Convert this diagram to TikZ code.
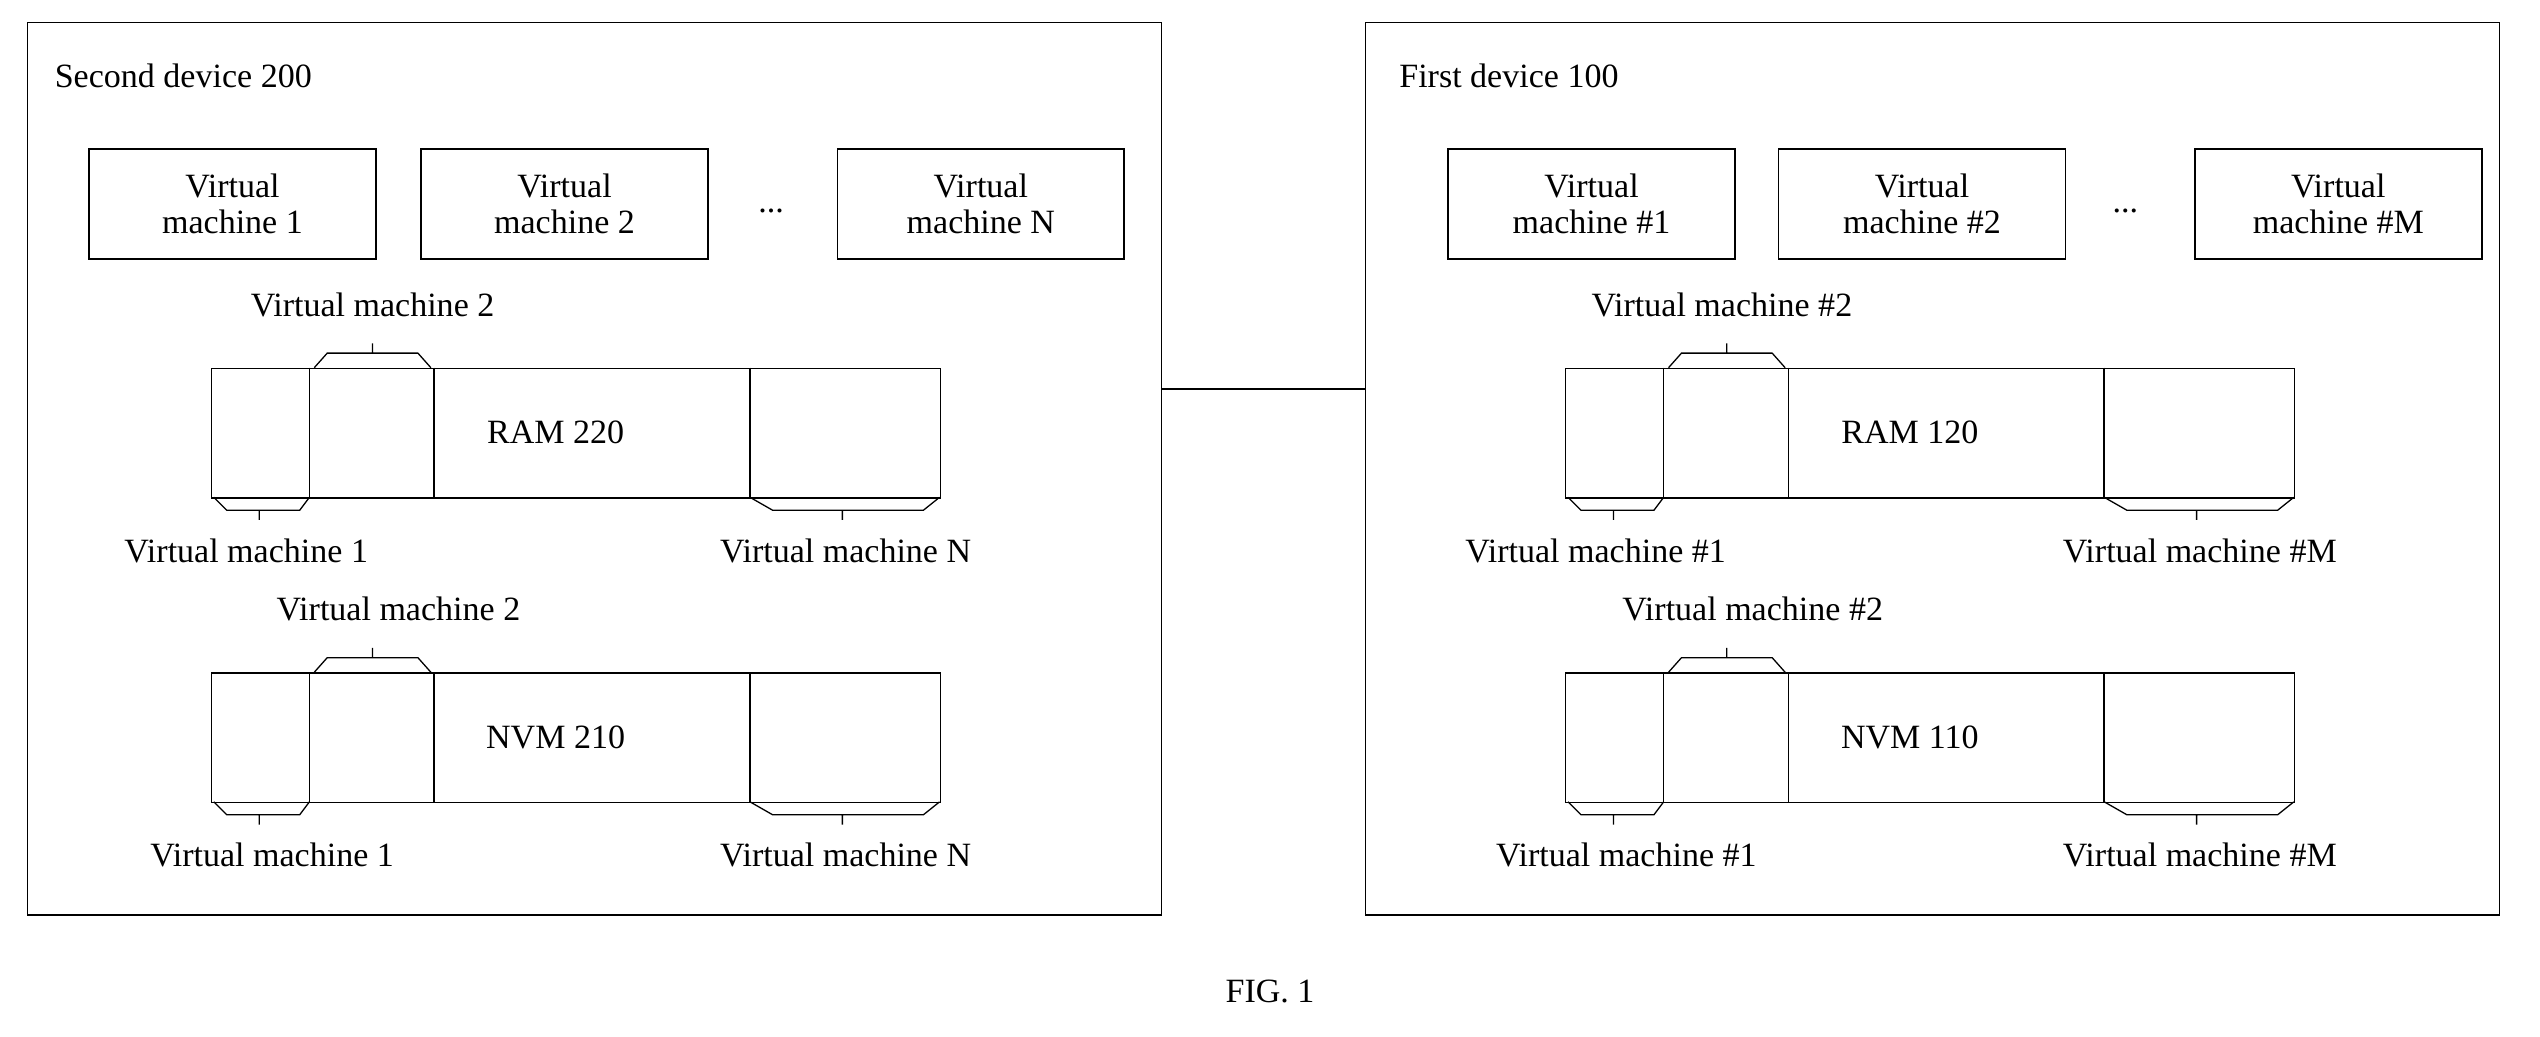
\documentclass[tikz,border=0pt]{standalone}
\usepackage{fontspec}
\setmainfont{Liberation Serif}
\usetikzlibrary{positioning}

\begin{document}
\begin{tikzpicture}[x=1pt,y=-1pt,line width=1pt,font=\fontsize{21}{24}\selectfont]
    \tikzset{device/.style = {draw, minimum width=700pt, minimum height=551pt, inner sep=0pt}}
    \tikzset{vm/.style = {draw, minimum width=177pt, minimum height=68pt, inner sep=0pt, align=center, font=\fontsize{21}{22}\selectfont}}
    \tikzset{mem/.style = {draw, minimum width=450pt, minimum height=80pt, inner sep=0pt}}
    \tikzset{bracket/.style = {draw, line width=0.8pt}}
    \useasboundingbox (0,0) rectangle (1568,640);

    % devices
    \node[device] (second) at (367,289.5) {};
    \node[device] (first) at (1193,289.5) {};
    \node[anchor=west] (secondlabel) at (30,47) {Second device 200};
    \node[anchor=west] (firstlabel) at (860,47) {First device 100};
    \coordinate (link) at (0,240);
    \draw (second.east |- link) -- (first.west |- link);

    % virtual machines
    \node[vm] (vma) at (143.5,126) {Virtual\\machine 1};
    \node[vm] (vmb) at (348.5,126) {Virtual\\machine 2};
    \node (dotsb) at (476,130) {...};
    \node[vm] (vmn) at (605.5,126) {Virtual\\machine N};
    \node[vm] (vmfa) at (982.5,126) {Virtual\\machine \#1};
    \node[vm] (vmfb) at (1186.5,126) {Virtual\\machine \#2};
    \node (dotsf) at (1312,130) {...};
    \node[vm] (vmfm) at (1443.5,126) {Virtual\\machine \#M};

    % memories
    \foreach \name/\x/\y/\txt/\vmtop/\xa/\xn/\one/\last in {
        ramb/130/227/RAM 220/Virtual machine 2/152/522/Virtual machine 1/Virtual machine N,
        nvmb/130/415/NVM 210/Virtual machine 2/168/522/Virtual machine 1/Virtual machine N,
        ramf/966/227/RAM 120/Virtual machine \#2/985/1358/Virtual machine \#1/Virtual machine \#M,
        nvmf/966/415/NVM 110/Virtual machine \#2/1004/1358/Virtual machine \#1/Virtual machine \#M} {
        \node[mem, anchor=north west] (\name) at (\x,\y) {};
        \draw (\x+61,\y) -- (\x+61,\y+80);
        \draw (\x+138,\y) -- (\x+138,\y+80);
        \draw (\x+333,\y) -- (\x+333,\y+80);
        \node (\name txt) at (\x+213,\y+40) {\txt};
        % brackets
        \draw[bracket] (\x+64,\y) -- (\x+72,\y-9) -- (\x+128,\y-9) -- (\x+136,\y) (\x+100,\y-9) -- (\x+100,\y-15);
        \draw[bracket] (\x+2,\y+80) -- (\x+10,\y+88) -- (\x+55,\y+88) -- (\x+61,\y+80) (\x+30,\y+88) -- (\x+30,\y+94);
        \draw[bracket] (\x+333,\y+80) -- (\x+347,\y+88) -- (\x+440,\y+88) -- (\x+450,\y+80) (\x+390,\y+88) -- (\x+390,\y+94);
        \node (\name top) at (\x+100+\xa-\x-22,\y-39) {\vmtop};
        \node (\name one) at (\xa,\y+113) {\one};
        \node (\name last) at (\xn,\y+113) {\last};
    }

    \node (fig) at (784,612) {FIG. 1};
\end{tikzpicture}
\end{document}
